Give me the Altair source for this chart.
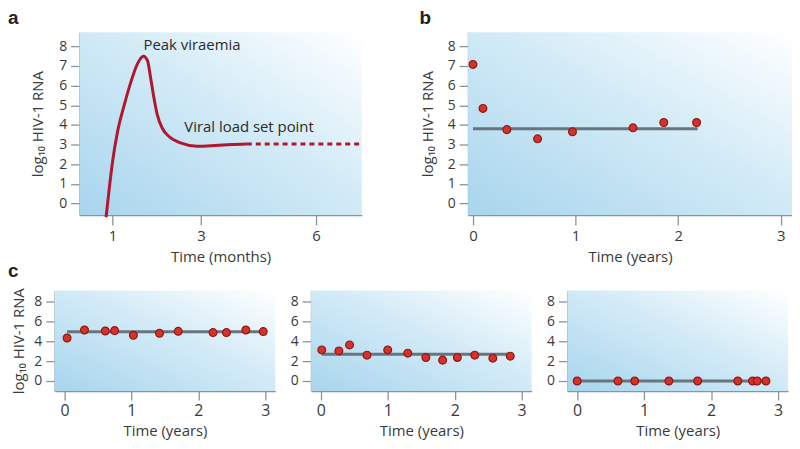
import altair as alt
import pandas as pd

# ---------------- data ----------------
# panel a: typical course of HIV-1 infection (months, log10 RNA)
a_months = [0.869, 0.934, 1.0, 1.102, 1.240, 1.382, 1.523, 1.654, 1.744, 1.818,
            1.892, 1.966, 2.080, 2.236, 2.507, 2.905, 3.355, 3.757, 4.153]
a_log = [-0.70, 0.81, 2.15, 3.67, 5.01, 6.19, 7.11, 7.50, 7.28, 6.35,
         5.35, 4.51, 3.83, 3.41, 3.08, 2.91, 2.95, 3.00, 3.03]
a_dash_months = [4.153, 7.28]
a_dash_log = [3.03, 3.03]
a_labels = ["Peak viraemia", "Viral load set point"]
a_label_months = [2.78, 4.21]
a_label_log = [8.05, 3.87]

# panel b
b_years = [0.0, 0.097, 0.33, 0.63, 0.97, 1.56, 1.86, 2.18]
b_log = [7.08, 4.84, 3.76, 3.29, 3.65, 3.85, 4.12, 4.12]
b_set = [0.0, 2.19, 3.8]

# panel c (three patients)
c1_years = [0.04, 0.30, 0.61, 0.75, 1.03, 1.42, 1.70, 2.22, 2.42, 2.71, 2.97]
c1_log = [4.33, 5.13, 5.03, 5.07, 4.60, 4.80, 5.00, 4.87, 4.87, 5.13, 4.97]
c1_set = [0.04, 2.97, 4.95]

c2_years = [0.015, 0.27, 0.43, 0.69, 1.00, 1.30, 1.57, 1.82, 2.04, 2.30, 2.57, 2.83]
c2_log = [3.13, 3.03, 3.63, 2.60, 3.13, 2.80, 2.37, 2.10, 2.37, 2.60, 2.30, 2.50]
c2_set = [0.015, 2.83, 2.7]

c3_years = [0.0, 0.61, 0.86, 1.37, 1.80, 2.40, 2.62, 2.69, 2.82]
c3_log = [0, 0, 0, 0, 0, 0, 0, 0, 0]
c3_set = [0.0, 2.82, 0.0]

Y_TITLE = "log\u2081\u2080 HIV-1 RNA"

# ---------------- style ----------------
AX = "#8a949a"
TXT = "#3a3a3a"
RED = "#b3172f"
PT_FILL = "#d8312a"
PT_STROKE = "#8c1a16"
GREY = "#67757e"

grad = alt.Gradient(
    gradient="linear",
    stops=[alt.GradientStop(offset=0, color="#a8d5ed"),
           alt.GradientStop(offset=0.55, color="#d3ebf7"),
           alt.GradientStop(offset=1, color="#ffffff")],
    x1=0, y1=1, x2=1, y2=0,
)

one = pd.DataFrame({"k": [0]})


def background(w, h):
    return alt.Chart(one).mark_rect(color=grad).encode(
        x=alt.value(0), x2=alt.value(w), y=alt.value(0), y2=alt.value(h)
    )


def letter(txt, dx, dy):
    return alt.Chart(one).mark_text(
        text=txt, font="Liberation Sans", fontWeight="bold", fontSize=19,
        color="#222222", align="left", baseline="alphabetic"
    ).encode(x=alt.value(dx), y=alt.value(dy))


def xax(values, title, lsize, lpad, tsize, ty):
    return alt.Axis(values=values, title=title, grid=False, domainColor=AX,
                    domainWidth=1.5, tickColor=AX, tickWidth=1.3, tickSize=tsize,
                    labelFontSize=lsize, labelColor=TXT, labelPadding=lpad,
                    titleFontSize=15, titleColor=TXT, titleFontWeight="normal",
                    titleY=ty, titleBaseline="alphabetic", labelFlush=False,
                    labelOverlap=False, format="d")


def yax(values, title, tx):
    kw = dict(values=values, grid=False, domainColor=AX, domainWidth=1.5,
              tickColor=AX, tickWidth=1.3, tickSize=9, labelFontSize=14,
              labelColor=TXT, labelPadding=4, labelFlush=False,
              labelOverlap=False, format="d")
    if title:
        kw.update(title=title, titleFontSize=15, titleColor=TXT,
                  titleFontWeight="normal", titleX=tx, titleBaseline="middle")
    else:
        kw.update(title=None)
    return alt.Axis(**kw)


def scatter_panel(years, logs, setp, w, h, xs, ys, xaxis, yaxis, extra=None):
    df = pd.DataFrame({"t": years, "v": logs})
    sp = pd.DataFrame({"t0": [setp[0]], "t1": [setp[1]], "v": [setp[2]]})
    rule = alt.Chart(sp).mark_rule(color=GREY, strokeWidth=3).encode(
        x=alt.X("t0:Q", scale=xs, axis=xaxis),
        x2="t1:Q",
        y=alt.Y("v:Q", scale=ys, axis=yaxis),
    )
    pts = alt.Chart(df).mark_circle(size=62, opacity=1, color=PT_FILL,
                                    stroke=PT_STROKE, strokeWidth=1.2).encode(
        x=alt.X("t:Q", scale=xs, axis=xaxis), y=alt.Y("v:Q", scale=ys, axis=yaxis)
    )
    layers = [background(w, h), rule, pts]
    if extra is not None:
        layers.append(extra)
    return alt.layer(*layers).properties(width=w, height=h)


# ---------------- panel a ----------------
WA, HA = 284, 184
xa = alt.Scale(type="pow", exponent=0.83, domain=[0.375, 7.28], nice=False, zero=False)
ya = alt.Scale(domain=[-0.59, 8.72], nice=False, zero=False)
da = pd.DataFrame({"m": a_months, "v": a_log})
dd = pd.DataFrame({"m": a_dash_months, "v": a_dash_log})
dl = pd.DataFrame({"m": a_label_months, "v": a_label_log, "s": a_labels})

xa_axis = xax([1, 3, 6], "Time (months)", 15, 4, 10, 47)
ya_axis = yax(list(range(9)), Y_TITLE, -42)
a_curve = alt.Chart(da).mark_line(color=RED, strokeWidth=3, interpolate="monotone").encode(
    x=alt.X("m:Q", scale=xa, axis=xa_axis),
    y=alt.Y("v:Q", scale=ya, axis=ya_axis),
)
a_dash = alt.Chart(dd).mark_line(color=RED, strokeWidth=3, strokeDash=[5, 4]).encode(
    x=alt.X("m:Q", scale=xa, axis=xa_axis), y=alt.Y("v:Q", scale=ya, axis=ya_axis)
)
a_text = alt.Chart(dl).mark_text(fontSize=15, color="#2b2b2b", align="center",
                                 baseline="middle").encode(
    x=alt.X("m:Q", scale=xa, axis=xa_axis), y=alt.Y("v:Q", scale=ya, axis=ya_axis),
    text="s:N"
)
panel_a = alt.layer(background(WA, HA), a_dash, a_curve, a_text,
                    letter("a", -72, -8)).properties(width=WA, height=HA)

# ---------------- panel b ----------------
WB, HB = 326, 184
xb = alt.Scale(domain=[-0.048, 3.11], nice=False, zero=False)
panel_b = scatter_panel(
    b_years, b_log, b_set, WB, HB, xb, ya,
    xax([0, 1, 2, 3], "Time (years)", 15, 4, 10, 47),
    yax(list(range(9)), Y_TITLE, -41),
    extra=letter("b", -49, -8),
)

# ---------------- panel c ----------------
WC, HC = 222, 101
xc = alt.Scale(domain=[-0.145, 3.15], nice=False, zero=False)
yc = alt.Scale(domain=[-1.0, 9.1], nice=False, zero=False)
cx = lambda: xax([0, 1, 2, 3], "Time (years)", 16, 3, 9, 45)
c1 = scatter_panel(c1_years, c1_log, c1_set, WC, HC, xc, yc, cx(),
                   yax([0, 2, 4, 6, 8], Y_TITLE, -36), extra=letter("c", -47, -14))
c2 = scatter_panel(c2_years, c2_log, c2_set, WC, HC, xc, yc, cx(),
                   yax([0, 2, 4, 6, 8], None, 0))
c3 = scatter_panel(c3_years, c3_log, c3_set, WC, HC, xc, yc, cx(),
                   yax([0, 2, 4, 6, 8], None, 0))

# invisible spacer so that the first columns of both rows can start at different x
spacer = alt.Chart(one).mark_rect(opacity=0).encode(
    x=alt.value(0), x2=alt.value(0), y=alt.value(0), y2=alt.value(0)
).properties(width=1, height=1)

inner_top = alt.hconcat(panel_a, panel_b, spacing=52)
top = alt.hconcat(spacer, inner_top, spacing=-48)
bottom = alt.hconcat(c1, c2, c3, spacing=14)

chart = alt.vconcat(top, bottom, spacing=-3).properties(padding=0).configure(
    font="Open Sans"
).configure_view(stroke=None).configure_concat(spacing=0)

chart.save("out.html", embed_options={"renderer": "svg", "actions": False})
